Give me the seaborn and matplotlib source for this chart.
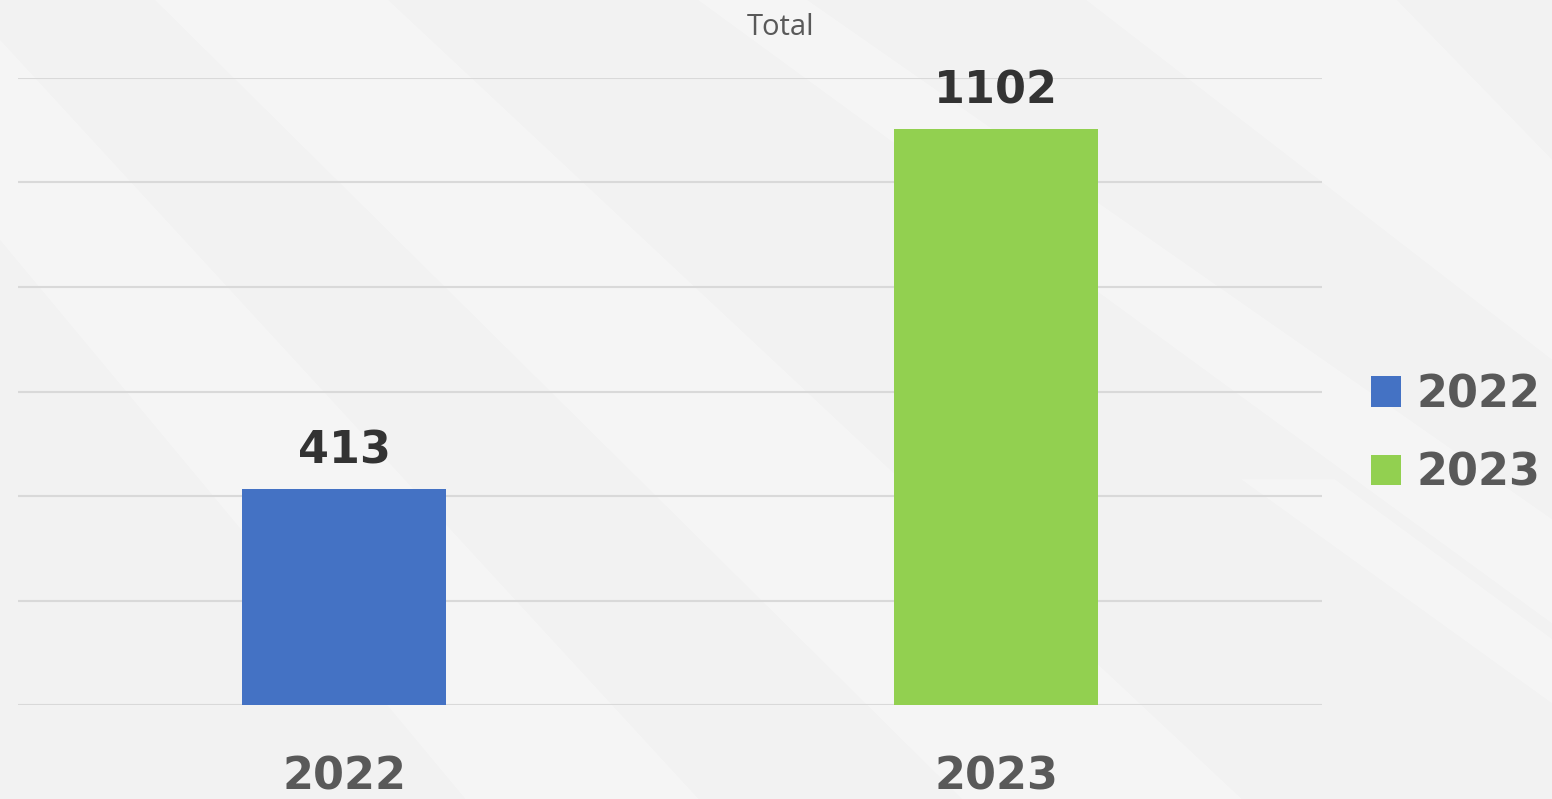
import numpy as np
import pandas as pd
import seaborn as sns
import matplotlib.pyplot as plt
from matplotlib.patches import Polygon, Patch

# Data
years = ["2022", "2023"]
totals = [413, 1102]
bar_colors = ["#4472C4", "#92D050"]
title = "Total"

df = pd.DataFrame({"year": years, "total": totals})

sns.set_theme(style="white")
plt.rcParams['font.family'] = ['DejaVu Sans']

fig = plt.figure(figsize=(15.52, 7.99), dpi=100)
fig.patch.set_facecolor("#f2f2f2")

# background axes with faint diagonal bands
bg = fig.add_axes([0, 0, 1, 1], zorder=-10)
bg.set_xlim(0, 1)
bg.set_ylim(0, 1)
bg.axis("off")
bands = [
    [(0.00, 0.70), (0.00, 0.95), (0.45, 0.00), (0.30, 0.00)],
    [(0.10, 1.00), (0.25, 1.00), (0.80, 0.00), (0.62, 0.00)],
    [(0.45, 1.00), (0.52, 1.00), (1.00, 0.35), (1.00, 0.22)],
    [(0.70, 1.00), (0.90, 1.00), (1.00, 0.80), (1.00, 0.55)],
    [(0.80, 0.40), (0.86, 0.40), (1.00, 0.20), (1.00, 0.12)],
]
for b in bands:
    bg.add_patch(Polygon(b, closed=True, facecolor="white", alpha=0.3, edgecolor="none"))

ax = fig.add_axes([0.0116, 0.1176, 0.8402, 0.7848])
ax.set_facecolor("none")

sns.barplot(data=df, x="year", y="total", hue="year", palette=bar_colors,
            dodge=False, width=0.314, legend=False, saturation=1, linewidth=0, ax=ax)

ax.set_xlim(-0.5, 1.5)
ax.set_ylim(0, 1200)
ax.set_yticks(np.arange(0, 1201, 200))
ax.set_yticklabels([])
ax.yaxis.grid(True, color="#d9d9d9", linewidth=1.5)
ax.set_axisbelow(True)
for s in ax.spines.values():
    s.set_visible(False)
ax.tick_params(axis="both", length=0)
ax.tick_params(axis="x", pad=36)
ax.set_xlabel("")
ax.set_ylabel("")
for lbl in ax.get_xticklabels():
    lbl.set_fontsize(32)
    lbl.set_fontweight("bold")
    lbl.set_color("#595959")

# value labels
for i, v in enumerate(totals):
    ax.annotate(str(v), (i, v), xytext=(0, 12), textcoords="offset points",
                ha="center", va="bottom", fontsize=32, fontweight="bold", color="#333333")

# title
fig.text(0.503, 0.966, title, ha="center", va="center", fontsize=21,
         color="#595959", family=["Open Sans", "DejaVu Sans"])

# legend
handles = [Patch(facecolor=c, edgecolor="none") for c in bar_colors]
leg = fig.legend(handles, years, loc="center left", bbox_to_anchor=(0.8718, 0.457),
                 frameon=False, handlelength=0.68, handleheight=0.68,
                 handletextpad=0.35, labelspacing=0.8, borderaxespad=0,
                 prop={"size": 32, "weight": "bold"})
for t in leg.get_texts():
    t.set_color("#595959")

plt.savefig("out.png", dpi=100, facecolor=fig.get_facecolor())
